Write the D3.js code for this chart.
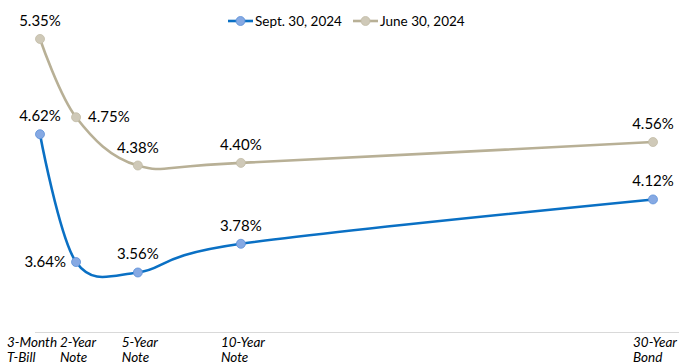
<!DOCTYPE html>
<html><head><meta charset="utf-8">
<script src="https://cdn.jsdelivr.net/npm/d3@7"></script>
<style>body{margin:0;background:#fff}svg{display:block}text{font-family:Lato,"Open Sans",sans-serif;fill:#000}</style>
</head><body><div id="chart"></div>
<script>
const categories = ["3-Month|T-Bill","2-Year|Note","5-Year|Note","10-Year|Note","30-Year|Bond"];
const maturities = [0.25, 2, 5, 10, 30];
const sept = [4.62, 3.64, 3.56, 3.78, 4.12];
const june = [5.35, 4.75, 4.38, 4.40, 4.56];
const seriesNames = ["Sept. 30, 2024", "June 30, 2024"];
// label placement: 'a' above, 'r' right, 'l' left
const septPos = ["a","l","a","a","a"];
const junePos = ["a","r","a","a","a"];

const W = 679, H = 364;
const svg = d3.select("#chart").append("svg").attr("width", W).attr("height", H);
const x = d3.scaleLinear().domain([0.25, 30]).range([40, 653]);
const y = d3.scaleLinear().domain([3.1, 5.5]).range([332.5, 19.4]);

svg.append("line").attr("x1", 35).attr("x2", 679).attr("y1", y(3.1)).attr("y2", y(3.1))
  .attr("stroke", "#d9d9d9").attr("stroke-width", 1);

const series = [
  {name: seriesNames[1], vals: june, pos: junePos, line: "#b8b096", fill: "#cfc9b8", stroke: "#c2bba6"},
  {name: seriesNames[0], vals: sept, pos: septPos, line: "#0a70c4", fill: "#86a9e3", stroke: "#5b8fd8"}
];
const lineGen = d3.line().x((d,i) => x(maturities[i])).y(d => y(d)).curve(d3.curveCardinal.tension(0));

series.forEach(s => {
  svg.append("path").attr("d", lineGen(s.vals)).attr("fill", "none")
    .attr("stroke", s.line).attr("stroke-width", 2.6);
  svg.selectAll(null).data(s.vals).enter().append("circle")
    .attr("cx", (d,i) => x(maturities[i])).attr("cy", d => y(d)).attr("r", 4.5)
    .attr("fill", s.fill).attr("stroke", s.stroke).attr("stroke-width", 0.8);
  svg.selectAll(null).data(s.vals).enter().append("text")
    .attr("font-size", 15)
    .attr("x", (d,i) => {
      const p = s.pos[i], cx = x(maturities[i]);
      return p === "r" ? cx + 12 : p === "l" ? cx - 10 : cx;
    })
    .attr("y", (d,i) => s.pos[i] === "a" ? y(d) - 13 : y(d) + 5)
    .attr("text-anchor", (d,i) => s.pos[i] === "r" ? "start" : s.pos[i] === "l" ? "end" : "middle")
    .text(d => d.toFixed(2) + "%");
});

// x axis labels (two lines, left-aligned to each other)
categories.forEach((c, i) => {
  const parts = c.split("|");
  const g = svg.append("text").attr("font-size", 13.5).attr("font-style", "italic");
  const t1 = g.append("tspan").text(parts[0]);
  const w = t1.node().getComputedTextLength();
  const x0 = i === 0 ? 7 : x(maturities[i]) - w / 2 + 2;
  t1.attr("x", x0).attr("y", 347);
  g.append("tspan").attr("x", x0).attr("y", 362).text(parts[1]);
});

// legend
const legend = [
  {name: seriesNames[0], line: "#0a70c4", fill: "#86a9e3", stroke: "#5b8fd8", x0: 228},
  {name: seriesNames[1], line: "#b8b096", fill: "#cfc9b8", stroke: "#c2bba6", x0: 353}
];
legend.forEach(l => {
  const g = svg.append("g");
  g.append("line").attr("x1", l.x0).attr("x2", l.x0 + 25).attr("y1", 21).attr("y2", 21)
    .attr("stroke", l.line).attr("stroke-width", 2.6);
  g.append("circle").attr("cx", l.x0 + 12.5).attr("cy", 21).attr("r", 4.5)
    .attr("fill", l.fill).attr("stroke", l.stroke).attr("stroke-width", 0.8);
  g.append("text").attr("x", l.x0 + 27).attr("y", 25.5).attr("font-size", 13.5).text(l.name);
});
</script></body></html>
